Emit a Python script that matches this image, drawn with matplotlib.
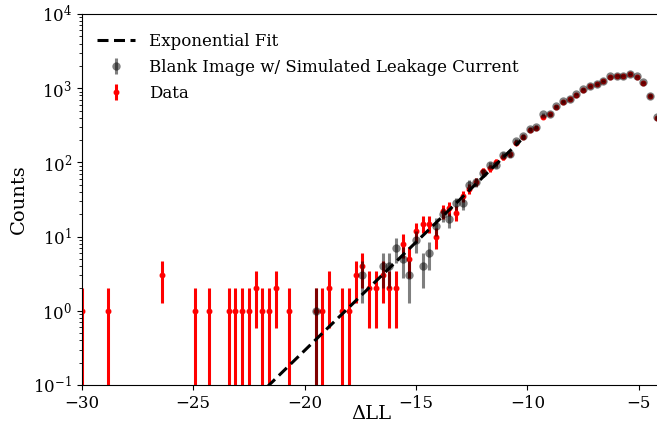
import numpy as np
import matplotlib
matplotlib.use('Agg')
import matplotlib.pyplot as plt

plt.rcParams['font.family'] = 'DejaVu Serif'
plt.rcParams['mathtext.fontset'] = 'dejavuserif'

# DATA -------------------------------------------------------------------------------------------->
# measured data (red)
data_x = [-30.0, -28.8, -26.4, -24.9, -24.3, -23.4, -23.1, -22.8, -22.5, -22.2, -21.9, -21.6,
          -21.3, -20.7, -19.5, -19.2, -18.9, -18.3, -18.0,
          -17.7, -17.4, -17.1, -16.8, -16.5, -16.2, -15.9, -15.6, -15.3, -15.0, -14.7, -14.4,
          -14.1, -13.8, -13.5, -13.2, -12.9, -12.6, -12.3, -12.0, -11.7, -11.4, -11.1, -10.8,
          -10.5, -10.2, -9.9, -9.6, -9.3, -9.0, -8.7, -8.4, -8.1, -7.8, -7.5, -7.2, -6.9, -6.6,
          -6.3, -6.0, -5.7, -5.4, -5.1, -4.8, -4.5, -4.2]
data_n = [1, 1, 3, 1, 1, 1, 1, 1, 1, 2, 1, 1,
          2, 1, 1, 1, 2, 1, 1,
          3, 4, 2, 2, 3, 2, 2, 8, 5, 12, 15, 15,
          10, 22, 24, 21, 35, 44, 55, 76, 84, 100, 118, 128,
          185, 220, 270, 295, 415, 445, 560, 650, 710, 820, 960, 1060, 1130, 1250,
          1420, 1470, 1470, 1540, 1420, 1180, 790, 400]

# blank image with simulated leakage current (gray)
blank_x = [-19.5, -17.4,
           -16.5, -16.2, -15.9, -15.6, -15.3, -15.0, -14.7, -14.4, -14.1, -13.8, -13.5, -13.2,
           -12.9, -12.6, -12.3, -12.0, -11.7, -11.4, -11.1, -10.8, -10.5, -10.2, -9.9, -9.6,
           -9.3, -9.0, -8.7, -8.4, -8.1, -7.8, -7.5, -7.2, -6.9, -6.6, -6.3, -6.0, -5.7, -5.4,
           -5.1, -4.8, -4.5, -4.2]
blank_n = [1, 3,
           4, 4, 7, 5, 3, 9, 4, 6, 14, 20, 17, 28,
           28, 50, 54, 72, 93, 93, 125, 128, 192, 224, 285, 302,
           445, 448, 567, 664, 719, 833, 972, 1073, 1145, 1259, 1439, 1480, 1480, 1550,
           1439, 1194, 797, 408]

# exponential fit, end points
fit_x = [-30.0, -10.3]
fit_y = [3.5e-4, 198.0]


def poisson_err(n):
    n = np.asarray(n, dtype=float)
    e = np.sqrt(n)
    low = np.where(n - e <= 0, n - 1e-4, e)
    return [low, e]


# PLOT -------------------------------------------------------------------------------------------->
fig = plt.figure(figsize=(6.57, 4.32), dpi=100)
ax = fig.add_axes([0.1243, 0.1088, 0.882, 0.8588])

h_data = ax.errorbar(data_x, data_n, yerr=poisson_err(data_n), fmt='.', color='red',
                     ms=6.5, elinewidth=2.2, zorder=2, label='Data')
h_blank = ax.errorbar(blank_x, blank_n, yerr=poisson_err(blank_n), fmt='o', color='k',
                      alpha=0.5, ms=6, mew=0, elinewidth=2.2, zorder=3,
                      label='Blank Image w/ Simulated Leakage Current')
h_fit, = ax.plot(fit_x, fit_y, 'k--', lw=2.2, dashes=(3.6, 1.8), zorder=4, label='Exponential Fit')

ax.set_yscale('log')
ax.set_xlim(-30, -4)
ax.set_ylim(0.1, 1e4)
ax.set_xticks([-30, -25, -20, -15, -10, -5])
ax.set_xticklabels(['\u221230', '\u221225', '\u221220', '\u221215', '\u221210', '\u22125'])
ax.tick_params(labelsize=12)
ax.set_xlabel('\u0394LL', fontsize=14, labelpad=-5)
ax.set_ylabel('Counts', fontsize=14)

ax.legend([h_fit, h_blank, h_data],
          ['Exponential Fit', 'Blank Image w/ Simulated Leakage Current', 'Data'],
          loc='upper left', bbox_to_anchor=(0.015, 0.968), borderaxespad=0,
          frameon=False, fontsize=12, handlelength=2.3, labelspacing=0.55)

fig.savefig('out.png', dpi=100)
